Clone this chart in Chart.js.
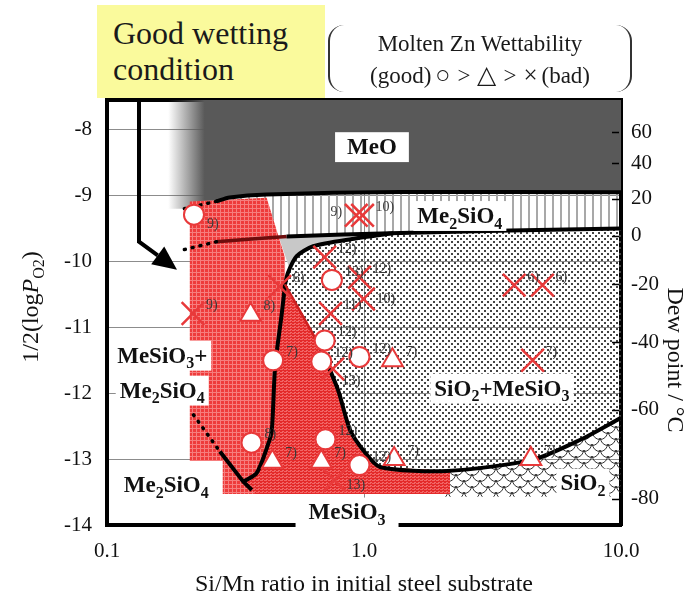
<!DOCTYPE html>
<html>
<head>
<meta charset="UTF-8">
<title>Molten Zn wettability vs. Si/Mn ratio and oxygen potential</title>
<script src="https://cdn.jsdelivr.net/npm/chart.js"></script>
<style>
  html, body { margin: 0; padding: 0; background: #fff; }
  #wrap { position: relative; width: 691px; height: 600px; font-family: "Liberation Serif", "Times New Roman", serif; color: #1a1a1a; }
  #chart { position: absolute; left: 0; top: 0; }
  .note { position: absolute; left: 97px; top: 5px; width: 228px; height: 93px; box-sizing: border-box;
          padding: 10px 0 0 16px; background: #fafa9c; font-size: 32px; line-height: 36px; }
  .legend { position: absolute; left: 328px; top: 25px; width: 304px; height: 67px; box-sizing: border-box;
            border-left: 2px solid #333; border-right: 2px solid #333; border-radius: 16px;
            text-align: center; font-size: 23px; line-height: 31px; padding-top: 3px; }
  .legend .sym { font-size: 25px; padding: 0 4px; }
  .legend .gt { padding: 0 3px; }
</style>
</head>
<body>
<div id="wrap">
  <canvas id="chart" width="691" height="600"></canvas>
  <div class="note">Good wetting<br>condition</div>
  <div class="legend">Molten Zn Wettability<br>(good)<span class="sym">&#9675;</span><span class="gt">&gt;</span><span class="sym">&#9651;</span><span class="gt">&gt;</span><span class="sym">&#215;</span>(bad)</div>
</div>
<script>
const SERIF = '"Liberation Serif", "Times New Roman", serif';
const RED = '#e8393a';

// axes
const xTicks = [0.1, 1, 10];
const yTicks = [-14, -13, -12, -11, -10, -9, -8];
const dewLabels = [60, 40, 20, 0, -20, -40, -60, -80];
const dewAtLogPO2 = [-8.04, -8.51, -9.05, -9.61, -10.35, -11.23, -12.25, -13.6];

// wettability results: Si/Mn ratio, 1/2 log PO2, reference number
const goodSiMn   = [0.218, 0.75, 0.703, 0.443, 0.682, 0.96, 0.365, 0.708, 0.96];
const goodLogPO2 = [-9.29, -10.28, -11.2, -11.5, -11.52, -11.45, -12.75, -12.7, -13.09];
const goodRefs   = ['9)', '13)', '12)', '7)', '12)', '12)', '8)', '12)', '12)'];

const fairSiMn   = [0.362, 1.29, 0.44, 0.682, 1.31, 4.46];
const fairLogPO2 = [-10.81, -11.5, -13.04, -13.04, -13.0, -13.0];
const fairRefs   = ['8)', '7)', '7)', '7)', '7)', '7)'];

const badSiMn   = [0.933, 0.987, 0.703, 0.96, 0.995, 0.47, 0.741, 0.216, 0.756, 3.84, 4.95, 4.53, 0.767];
const badLogPO2 = [-9.3, -9.3, -9.935, -10.24, -10.57, -10.38, -10.79, -10.79, -11.63, -10.36, -10.36, -11.5, -13.32];
const badRefs   = ['9)', '10)', '12)', '12)', '10)', '6)', '11)', '9)', '13)', '6)', '6)', '7)', '13)'];

// phase boundaries [Si/Mn, 1/2 log PO2]
const meoEdge      = [[0.267, -9.087], [0.3, -9.03], [0.418, -8.985], [1.38, -8.945], [10, -8.95]];
const meoEdgeDots  = [[0.2, -9.2], [0.267, -9.087]];
const bandEdge     = [[0.267, -9.70], [0.5, -9.62], [1.38, -9.567], [10, -9.5]];
const bandEdgeDots = [[0.2, -9.82], [0.267, -9.70]];
const upperCurve   = [[0.493, -10.35], [0.506, -10.17], [0.547, -9.92], [0.634, -9.77], [0.9, -9.66], [1.3, -9.572]];
const steepCurve   = [[0.493, -10.35], [0.479, -10.783], [0.451, -11.594], [0.438, -12.556], [0.425, -12.758], [0.382, -13.214], [0.339, -13.342]];
const leftArm      = [[0.275, -12.886], [0.339, -13.342], [0.366, -13.468]];
const leftArmDots  = [[0.217, -12.328], [0.275, -12.886]];
const lowerCurve   = [[0.493, -10.35], [0.675, -11.295], [0.792, -11.948], [0.882, -12.556], [0.991, -12.86],
                      [1.154, -13.119], [2.10, -13.18], [4.51, -13.012], [6.92, -12.71], [10, -12.374]];
// good wetting zone (red)
const redZone = [[0.21, -9.09], [0.418, -9.035], [0.493, -9.94], [0.493, -10.35], [0.675, -11.295], [0.792, -11.948],
                 [0.882, -12.556], [0.991, -12.86], [1.154, -13.119], [2.10, -13.18], [2.16, -13.19], [2.16, -13.53],
                 [0.282, -13.53], [0.282, -13.03], [0.21, -13.03]];

// fill patterns
function makePattern(w, h, paint) {
  const c = document.createElement('canvas');
  c.width = w; c.height = h;
  const g = c.getContext('2d');
  paint(g);
  return g.createPattern(c, 'repeat');
}
const dotFill = makePattern(6, 6, g => {
  g.fillStyle = '#444';
  g.fillRect(1, 1, 2, 2); g.fillRect(4, 4, 2, 2);
});
const stripeFill = makePattern(8, 4, g => {
  g.fillStyle = '#a8a8a8'; g.fillRect(0, 0, 2, 4);
});
const scaleFill = makePattern(16, 12, g => {
  g.strokeStyle = '#333'; g.lineWidth = 1;
  [[8, 0], [0, 6], [16, 6], [0, -6], [16, -6], [8, 12]].forEach(([cx, cy]) => {
    g.beginPath(); g.arc(cx, cy, 7.5, 0, Math.PI); g.stroke();
  });
});
const redFill = makePattern(4, 4, g => {
  g.fillStyle = '#ee3b3b'; g.fillRect(0, 0, 4, 4);
  g.fillStyle = '#f67d7d'; g.fillRect(0, 0, 4, 1); g.fillRect(0, 0, 1, 4);
});
const redDense = makePattern(4, 3, g => {
  g.fillStyle = '#e42a2a'; g.fillRect(0, 0, 4, 3);
  g.fillStyle = '#f26565'; g.fillRect(0, 0, 3, 1); g.fillRect(2, 2, 2, 1);
});
const meoGray = '#595959';
function meoGradient(c) {
  const chart = c.chart;
  if (!chart.chartArea) return meoGray;
  const xs = chart.scales.x;
  const g = chart.ctx.createLinearGradient(xs.getPixelForValue(0.173), 0, xs.getPixelForValue(0.24), 0);
  g.addColorStop(0, 'rgba(89,89,89,0)');
  g.addColorStop(1, meoGray);
  return g;
}

const xy = pts => pts.map(([x, y]) => ({ x, y }));
function zone(pts, fill, order) {
  const d = xy(pts);
  d.push(d[0]);
  return { type: 'line', data: d, fill: 'shape', backgroundColor: fill, borderWidth: 0,
           borderColor: 'rgba(0,0,0,0)', pointRadius: 0, tension: 0, order };
}
function edge(pts, color, width, order, dash) {
  return { type: 'line', data: xy(pts), fill: false, borderColor: color, borderWidth: width,
           borderDash: dash || [], borderCapStyle: dash ? 'round' : 'butt', borderJoinStyle: 'round',
           pointRadius: 0, tension: dash ? 0 : 0.25, order };
}
function marks(xs, ys, style, radius, width, order) {
  return { type: 'scatter', data: xs.map((x, i) => ({ x, y: ys[i] })), pointStyle: style,
           pointRadius: radius, pointBackgroundColor: '#fff', pointBorderColor: RED,
           pointBorderWidth: width, order };
}

const meoZone = [[0.1, -7.55], [10, -7.55]].concat(meoEdge.slice().reverse(), [[0.2, -9.2], [0.1, -9.2]]);
const bandZone = meoEdge.concat(bandEdge.slice().reverse());
const wedge = [[0.466, -9.625], [1.3, -9.572], [0.9, -9.66], [0.634, -9.77], [0.547, -9.92], [0.51, -10.08]];
const dotZone = upperCurve.concat([[1.38, -9.567], [10, -9.5]], lowerCurve.slice().reverse());
const sio2Zone = [[2.0, -13.18]].concat(lowerCurve.slice(7), [[10, -13.57], [2.0, -13.57]]);
const lobeZone = lowerCurve.slice(0, 7).concat([[2.16, -13.19], [2.16, -13.53], [0.38, -13.53], [0.366, -13.468]],
                                               steepCurve.slice().reverse());

const datasets = [
  zone(meoZone, meoGradient, 30),
  zone(bandZone, stripeFill, 29),
  zone(wedge, '#c8c8c8', 28),
  zone(dotZone, dotFill, 27),
  zone(sio2Zone, scaleFill, 26),
  zone(redZone, redFill, 25),
  zone(lobeZone, redDense, 24),
  edge(meoEdge, '#000', 4, 20),
  edge(meoEdgeDots, '#000', 3.5, 19, [1, 7]),
  edge(bandEdge.slice(0, 2), '#6e0d0d', 3.5, 18),
  edge(bandEdge.slice(1), '#000', 4, 17),
  edge(bandEdgeDots, '#000', 3.5, 16, [1, 7]),
  edge(upperCurve, '#000', 4, 15),
  edge(steepCurve, '#000', 4, 14),
  { ...edge(leftArm, '#000', 4, 13), tension: 0 },
  edge(leftArmDots, '#000', 3.5, 12, [1, 7]),
  edge(lowerCurve.slice(0, 2), '#cc1f1f', 2.5, 11),
  edge(lowerCurve.slice(1), '#000', 4, 10),
  marks(badSiMn, badLogPO2, 'crossRot', 16, 2.5, 3),
  marks(fairSiMn, fairLogPO2, 'triangle', 12, 2, 2),
  marks(goodSiMn, goodLogPO2, 'circle', 10, 2, 1),
];

// text that sits inside the plot
const regionLabels = [
  { text: 'MeO', x: 1.074, y: -8.255, pad: 12 },
  { text: 'Me_2SiO_4', x: 2.36, y: -9.30, pad: 4 },
  { text: 'MeSiO_3+', x: 0.164, y: -11.42, pad: 4 },
  { text: 'Me_2SiO_4', x: 0.164, y: -11.95, pad: 4 },
  { text: 'SiO_2+MeSiO_3', x: 3.44, y: -11.92, pad: 4 },
  { text: 'Me_2SiO_4', x: 0.17, y: -13.39, pad: 4 },
  { text: 'MeSiO_3', x: 0.859, y: -13.80, pad: 13 },
  { text: 'SiO_2', x: 7.11, y: -13.36, pad: 4 },
];
const arrowPath = [[0.1332, -7.45], [0.1332, -9.70], [0.1873, -10.125]];
// where a reference number does not sit at the upper right of its mark
const refPlace = { 'good:0': [13, 10], 'bad:0': [-14, -3, 'right'], 'bad:8': [9, 12], 'bad:12': [12, 5], 'bad:4': [13, 0] };

function drawChem(ctx, text, cx, cy, size, pad) {
  // '_' marks the next character as a subscript
  const bits = [];
  for (let i = 0; i < text.length; i++) {
    if (text[i] === '_') bits.push({ t: text[++i], sub: true });
    else bits.push({ t: text[i], sub: false });
  }
  const big = `bold ${size}px ${SERIF}`, small = `bold ${Math.round(size * 0.68)}px ${SERIF}`;
  let w = 0;
  bits.forEach(b => { ctx.font = b.sub ? small : big; b.w = ctx.measureText(b.t).width; w += b.w; });
  ctx.fillStyle = '#fff';
  ctx.fillRect(cx - w / 2 - pad, cy - size * 0.62, w + pad * 2, size * 1.3);
  ctx.fillStyle = '#111';
  ctx.textAlign = 'left';
  ctx.textBaseline = 'alphabetic';
  let x0 = cx - w / 2;
  const base = cy + size * 0.33;
  bits.forEach(b => {
    ctx.font = b.sub ? small : big;
    ctx.fillText(b.t, x0, b.sub ? base + size * 0.25 : base);
    x0 += b.w;
  });
}

const overlay = {
  id: 'overlay',
  afterDatasetsDraw(chart) {
    const { ctx, chartArea, scales: { x, y, yDew } } = chart;
    const px = v => x.getPixelForValue(v), py = v => y.getPixelForValue(v);
    ctx.save();

    // arrow from the "good wetting" note
    const pts = arrowPath.map(([a, b]) => [px(a), py(b)]);
    const [tx, ty] = pts[2], [bx, by] = pts[1];
    const ang = Math.atan2(ty - by, tx - bx), head = 24, half = 11;
    const hx = tx - Math.cos(ang) * head, hy = ty - Math.sin(ang) * head;
    ctx.strokeStyle = '#000'; ctx.lineWidth = 4; ctx.lineJoin = 'miter';
    ctx.beginPath(); ctx.moveTo(pts[0][0], pts[0][1]); ctx.lineTo(bx, by); ctx.lineTo(hx, hy); ctx.stroke();
    ctx.fillStyle = '#000';
    ctx.beginPath();
    ctx.moveTo(tx, ty);
    ctx.lineTo(hx + Math.sin(ang) * half, hy - Math.cos(ang) * half);
    ctx.lineTo(hx - Math.sin(ang) * half, hy + Math.cos(ang) * half);
    ctx.closePath(); ctx.fill();

    regionLabels.forEach(l => drawChem(ctx, l.text, px(l.x), py(l.y), 23, l.pad));

    // reference numbers next to the marks
    ctx.font = `14px ${SERIF}`;
    ctx.fillStyle = '#3a3a3a';
    ctx.textBaseline = 'middle';
    [['good', goodSiMn, goodLogPO2, goodRefs], ['fair', fairSiMn, fairLogPO2, fairRefs], ['bad', badSiMn, badLogPO2, badRefs]]
      .forEach(([key, xs, ys, refs]) => {
        refs.forEach((r, i) => {
          const p = refPlace[key + ':' + i] || [13, -8];
          ctx.textAlign = p[2] || 'left';
          ctx.fillText(r, px(xs[i]) + p[0], py(ys[i]) + p[1]);
        });
      });

    // dew point tick marks point into the plot
    ctx.strokeStyle = '#000'; ctx.lineWidth = 1.5;
    ctx.beginPath();
    dewAtLogPO2.forEach(v => {
      const yy = Math.round(yDew.getPixelForValue(v)) + 0.5;
      ctx.moveTo(chartArea.right - 9, yy); ctx.lineTo(chartArea.right - 2, yy);
    });
    ctx.stroke();
    ctx.restore();
  },
  afterDraw(chart) {
    const { ctx } = chart;
    ctx.save();
    ctx.fillStyle = '#111';
    ctx.textBaseline = 'alphabetic';
    ctx.textAlign = 'left';

    // left axis title: 1/2(log P_O2)
    const parts = [['1/2(log', `24px ${SERIF}`, 0], ['P', `italic 24px ${SERIF}`, 0], ['O2', `16px ${SERIF}`, 6], [')', `24px ${SERIF}`, 0]];
    let w = 0;
    parts.forEach(p => { ctx.font = p[1]; p.push(ctx.measureText(p[0]).width); w += p[3]; });
    ctx.translate(30, 307);
    ctx.rotate(-Math.PI / 2);
    let x0 = -w / 2;
    parts.forEach(p => { ctx.font = p[1]; ctx.fillText(p[0], x0, 8 + p[2]); x0 += p[3]; });
    ctx.setTransform(1, 0, 0, 1, 0, 0);

    // right axis title
    ctx.font = `24px ${SERIF}`;
    ctx.textAlign = 'center';
    ctx.translate(676, 360);
    ctx.rotate(Math.PI / 2);
    ctx.fillText('Dew point / \u00B0C', 0, 8);
    ctx.restore();
  }
};

new Chart(document.getElementById('chart'), {
  type: 'scatter',
  data: { datasets },
  options: {
    responsive: false,
    animation: false,
    devicePixelRatio: 1,
    events: [],
    layout: { padding: { top: 100, left: 0, right: 0, bottom: 0 } },
    plugins: { legend: { display: false }, tooltip: { enabled: false } },
    scales: {
      x: {
        type: 'logarithmic', min: 0.1, max: 10, position: 'bottom',
        border: { width: 4, color: '#000' },
        grid: { color: '#8c8c8c', lineWidth: 1, drawTicks: false },
        ticks: { color: '#111', font: { family: SERIF, size: 21 }, padding: 14, autoSkip: false, maxRotation: 0,
                 callback: v => Number(v).toFixed(1) },
        afterBuildTicks: s => { s.ticks = xTicks.map(v => ({ value: v })); },
        afterFit: s => { s.height = 75; },
        title: { display: true, text: 'Si/Mn ratio in initial steel substrate', color: '#111',
                 font: { family: SERIF, size: 24 }, padding: { top: 0, bottom: 1 } }
      },
      xTop: {
        type: 'logarithmic', min: 0.1, max: 10, position: 'top',
        border: { width: 4, color: '#000' },
        grid: { display: false, drawTicks: false },
        ticks: { display: false },
        afterFit: s => { s.height = 0; }
      },
      y: {
        type: 'linear', min: -14, max: -7.55, position: 'left',
        border: { width: 4, color: '#000' },
        grid: { color: '#8c8c8c', lineWidth: 1, drawTicks: false },
        ticks: { color: '#111', font: { family: SERIF, size: 21 }, padding: 15, callback: v => String(v) },
        afterBuildTicks: s => { s.ticks = yTicks.map(v => ({ value: v })); },
        afterFit: s => { s.width = 107; }
      },
      yDew: {
        type: 'linear', min: -14, max: -7.55, position: 'right',
        border: { width: 4, color: '#000' },
        grid: { drawOnChartArea: false, drawTicks: false },
        ticks: { color: '#111', font: { family: SERIF, size: 21 }, padding: 10,
                 callback: v => dewLabels[dewAtLogPO2.indexOf(v)] },
        afterBuildTicks: s => { s.ticks = dewAtLogPO2.map(v => ({ value: v })); },
        afterFit: s => { s.width = 70; }
      }
    }
  },
  plugins: [overlay]
});
</script>
</body>
</html>
